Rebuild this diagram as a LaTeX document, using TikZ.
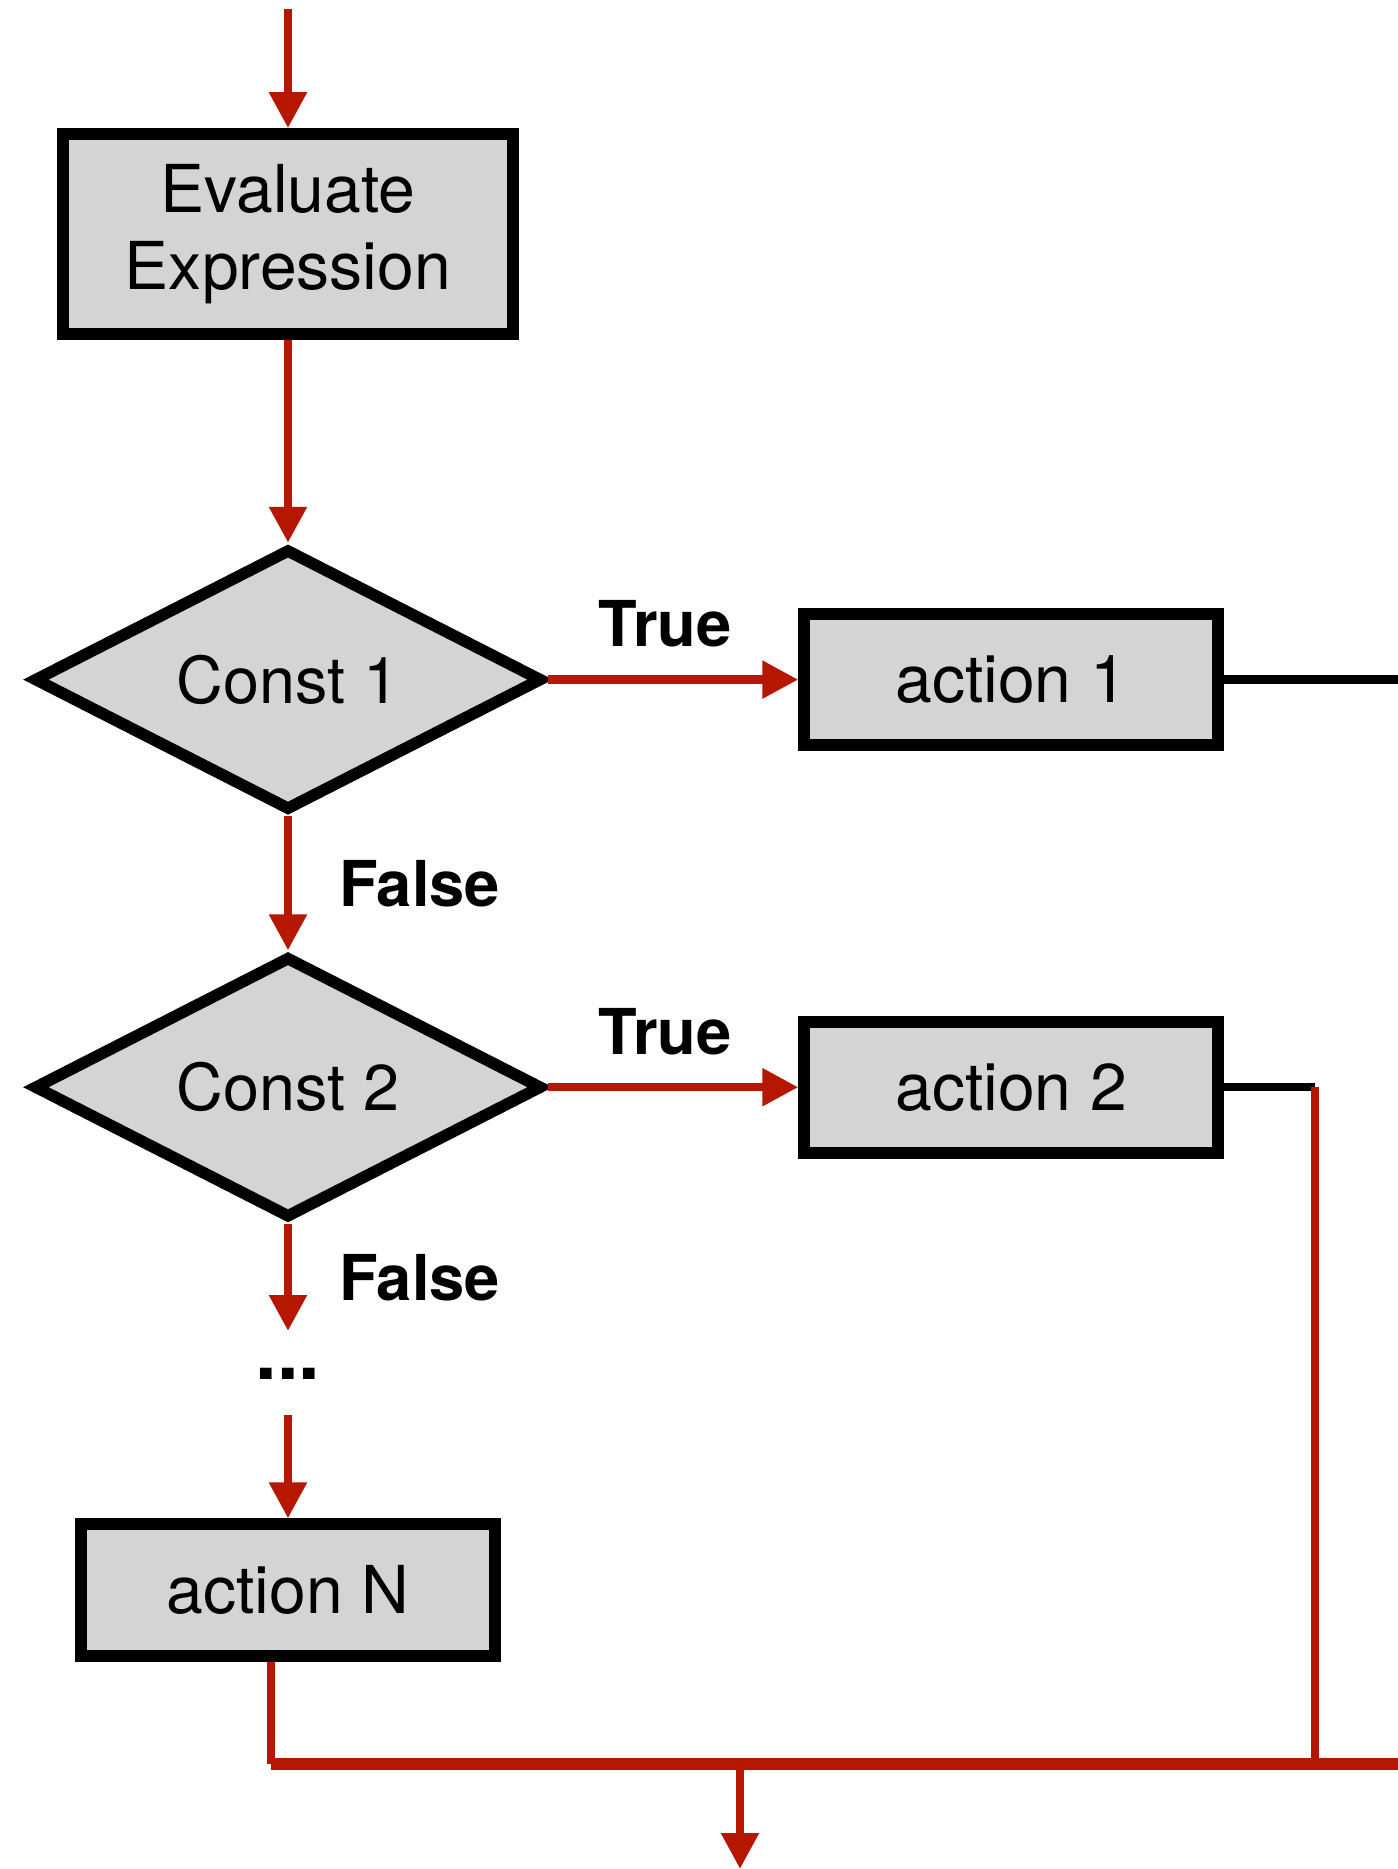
\documentclass[tikz,border=0pt]{standalone}
\usepackage{fontspec}
\setmainfont{TeX Gyre Heros}
\usepackage{xcolor}
\usepackage{tikz}
\usetikzlibrary{arrows.meta,calc}
\usetikzlibrary{positioning}
\usetikzlibrary{shapes.geometric}
\definecolor{flowred}{RGB}{181,23,0}
\definecolor{boxgray}{RGB}{212,212,212}

\begin{document}
\begin{tikzpicture}[
    box/.style={draw, line width=3.3pt, fill=boxgray, inner sep=0pt, font=\fontsize{18.8}{22}\selectfont, align=center},
    decide/.style={diamond, aspect=2, draw, line width=3.3pt, fill=boxgray, inner sep=0pt, minimum width=5.09cm, minimum height=2.62cm, font=\fontsize{18.4}{22}\selectfont},
    flow/.style={draw=flowred, line width=2.4pt, -{Triangle[width=0.36cm,length=0.36cm]}},
    wire/.style={draw=black, line width=2.4pt},
    lbl/.style={inner sep=0pt, font=\fontsize{18}{21}\selectfont\bfseries}
  ]
  \useasboundingbox (0,0) rectangle (13.98,-18.69);

  % Evaluate expression
  \node[box, minimum width=4.5cm, minimum height=2.0cm] (eval) at (2.88,-2.34) {Evaluate\\Expression};
  \coordinate[above=1.19cm of eval] (start);

  % Decisions
  \node[decide, below=2.03cm of eval] (const1) {Const 1};
  \node[decide, below=1.34cm of const1] (const2) {Const 2};

  % Actions
  \node[box, minimum width=4.14cm, minimum height=1.31cm, right=2.50cm of const1] (act1) {action 1};
  \node[box, minimum width=4.14cm, minimum height=1.31cm, right=2.50cm of const2] (act2) {action 2};
  \node[inner sep=0pt, text height=0.48cm, text depth=0.35cm, font=\fontsize{22}{24}\selectfont\bfseries, below=1.07cm of const2] (dots) {...};
  \node[box, minimum width=4.14cm, minimum height=1.32cm, below=1.03cm of dots] (actN) {action N};

  % Merge points
  \coordinate (join) at (7.40,-17.64);
  \coordinate (rail) at (13.15,-17.64);
  \coordinate (edge) at (13.98,-17.64);
  \coordinate (out) at (7.40,-18.69);

  % Arrows
  \draw[flow] (start) -- (eval);
  \draw[flow] (eval) -- (const1);
  \draw[flow] (const1) -- node[lbl, above=0.28cm, xshift=-0.08cm] {True} (act1);
  \draw[flow] (const1) -- node[lbl, right=0.47cm] {False} (const2);
  \draw[flow] (const2) -- node[lbl, above=0.28cm, xshift=-0.08cm] {True} (act2);
  \draw[flow] (const2) -- node[lbl, right=0.47cm] {False} (dots);
  \draw[flow] (dots) -- (actN);

  % Lines out of the actions
  \draw[wire] (act1.east) -- (act1.east -| edge);
  \draw[wire] (act2.east) -- (act2.east -| rail);
  \draw[draw=flowred, line width=2.4pt] (act2.east -| rail) -- (rail);
  \draw[draw=flowred, line width=2.4pt] ([xshift=-0.17cm]actN.south) -- ([xshift=-0.17cm]actN.south |- join);
  \draw[draw=flowred, line width=3.2pt] ([xshift=-0.17cm]actN.south |- join) -- (edge);
  \draw[flow] (join) -- (out);
\end{tikzpicture}
\end{document}
